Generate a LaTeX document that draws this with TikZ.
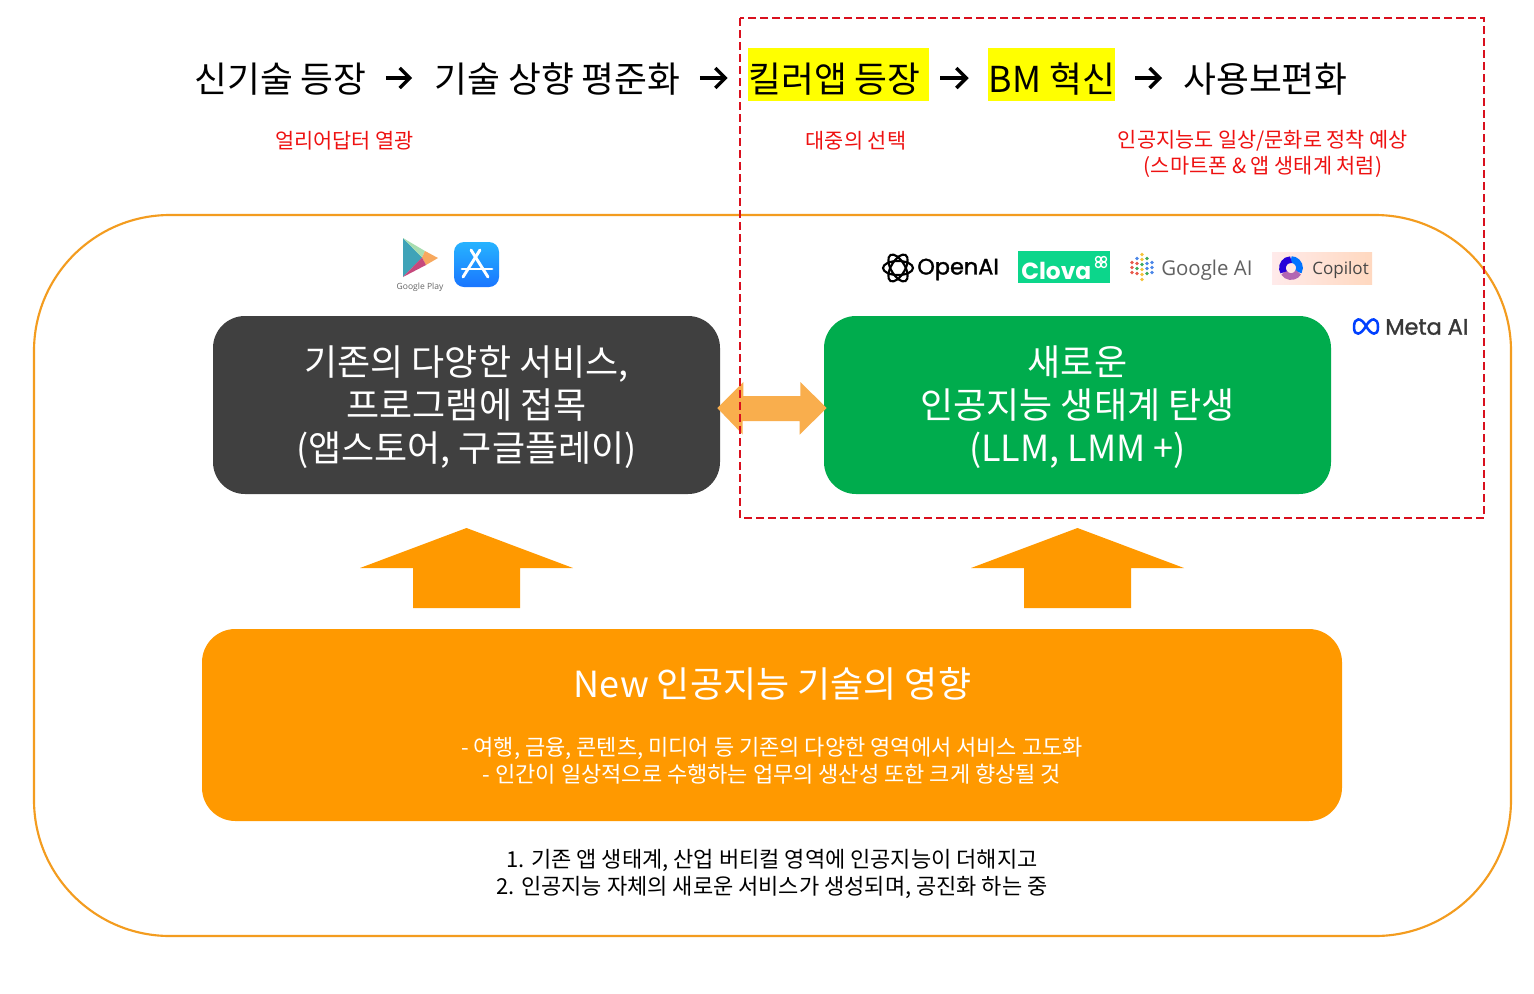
\documentclass[tikz,border=0pt]{standalone}
\usepackage{fontspec}
\setmainfont{Noto Sans CJK KR}
\newfontfamily\logofont{Poppins}
\newfontfamily\logobold[FakeBold=1.4]{Poppins}
\newfontfamily\gfont{Open Sans}
\usetikzlibrary{arrows.meta,calc}
\definecolor{ringorange}{HTML}{F39C1F}
\definecolor{boxorange}{HTML}{FF9900}
\definecolor{softorange}{HTML}{F9AE4D}
\definecolor{darkbox}{HTML}{404040}
\definecolor{greenbox}{HTML}{00AC4D}
\definecolor{dashred}{HTML}{D9101E}
\definecolor{textred}{HTML}{EE1111}
\definecolor{hiyellow}{HTML}{FFFF00}
\definecolor{clovagreen}{HTML}{0CD68B}
\definecolor{gpteal}{HTML}{3FA3B8}
\definecolor{gpgreen}{HTML}{A8DDB0}
\definecolor{gporange}{HTML}{F7A85E}
\definecolor{gppink}{HTML}{C6487C}
\definecolor{gred}{HTML}{E8594B}
\definecolor{gblue}{HTML}{4A86E8}
\definecolor{ggreen}{HTML}{3DAA5C}
\definecolor{gyellow}{HTML}{F5C33B}
\tikzset{
  x=0.75pt,y=-0.75pt,
  titletext/.style={font=\fontsize{26.8}{32}\selectfont,inner sep=0pt,text=black,anchor=center},
  hilite/.style={fill=hiyellow,minimum height=39.75pt,inner sep=0pt},
  redtext/.style={font=\fontsize{15.6}{19.5}\selectfont,text=textred,align=center,inner sep=0pt},
  flowarrow/.style={draw=black,line width=2.6pt,-{Straight Barb[length=7.5pt,width=15pt,line width=2.6pt]}},
  mainbox/.style={rounded corners=24pt,inner sep=0pt,minimum width=380.25pt,minimum height=133.5pt},
  maintext/.style={text=white,align=center,inner sep=0pt,font=\fontsize{27}{32.4}\selectfont},
  bigarrow/.style={fill=boxorange,draw=none},
  bottomtext/.style={font=\fontsize{16.5}{19.8}\selectfont,align=center,inner sep=0pt,text=black},
}
\begin{document}
\begin{tikzpicture}
\useasboundingbox (0,0) rectangle (1534,993);
\fill[white] (0,0) rectangle (1534,993);

% outer ring
\draw[ringorange,line width=1.6pt,rounded corners=102pt] (34,215) rectangle (1511,936);

% title row
\node[hilite,minimum width=135.75pt] (h3) at (838.5,74.5) {};
\node[hilite,minimum width=95.25pt] (h4) at (1051.5,74.5) {};
\node[titletext] (t1) at (280.5,79) {신기술 등장};
\node[titletext] (t2) at (557.5,79) {기술 상향 평준화};
\node[titletext] (t3) at (834.5,79) {킬러앱 등장};
\node[titletext] (t4) at (1052,79) {BM 혁신};
\node[titletext] (t5) at (1265.5,79) {사용보편화};
\draw[flowarrow,shorten <=14.25pt,shorten >=16.5pt] (t1.east |- 0,78) -- (t2.west |- 0,78);
\draw[flowarrow,shorten <=14.25pt,shorten >=15pt] (t2.east |- 0,78) -- (h3.west |- 0,78);
\draw[flowarrow,shorten <=8.25pt,shorten >=14.25pt] (h3.east |- 0,78) -- (h4.west |- 0,78);
\draw[flowarrow,shorten <=15pt,shorten >=15.75pt] (h4.east |- 0,78) -- (t5.west |- 0,78);

% red notes
\node[redtext] (n1) at (344.5,141) {얼리어답터 열광};
\node[redtext] (n2) at (856,141) {대중의 선택};
\node[redtext] (n3) at (1263,153.5) {인공지능도 일상/문화로 정착 예상\\(스마트폰 \& 앱 생태계 처럼)};

% main boxes
\node[mainbox,fill=darkbox] (old) at (466.5,405) {};
\node[maintext] (oldtext) at (466.5,407) {기존의 다양한 서비스,\\프로그램에 접목\\(앱스토어, 구글플레이)};
\node[mainbox,fill=greenbox] (new) at (1077.5,405) {};
\node[maintext] (newtext) at (1077.5,407) {새로운\\인공지능 생태계 탄생\\(LLM, LMM +)};

% double arrow
\path (old.east) ++(-3,3) coordinate (dl);
\path (new.west) ++(3,3) coordinate (dr);
\fill[softorange] (dl) -- ++(26,-26) -- ++(0,14) -- ++(57,0) -- ++(0,-14) -- (dr) -- ++(-27,26.5) -- ++(0,-13.5) -- ++(-57,0) -- ++(0,13.5) -- cycle;

% impact box
\node[rounded corners=25pt,fill=boxorange,minimum width=855pt,minimum height=144pt,inner sep=0pt] (impact) at (772,725) {};
\node[text=white,font=\fontsize{27}{32}\selectfont,inner sep=0pt] (impacttitle) at (772.5,684) {New 인공지능 기술의 영향};
\node[text=white,font=\fontsize{16.5}{20.25}\selectfont,align=center,inner sep=0pt] (impactbody) at (772,760.5) {- 여행, 금융, 콘텐츠, 미디어 등 기존의 다양한 영역에서 서비스 고도화\\- 인간이 일상적으로 수행하는 업무의 생산성 또한 크게 향상될 것};

% up arrows
\foreach \nm/\cx in {oldup/466.5,newup/1077.5}{
  \coordinate (\nm) at (\cx,528);
  \fill[bigarrow] (\nm) -- ++(106.5,40) -- ++(-53,0) -- ++(0,40) -- ++(-107,0) -- ++(0,-40) -- ++(-53,0) -- cycle;
}

% bottom text
\node[bottomtext] (bt) at (772,874) {1. 기존 앱 생태계, 산업 버티컬 영역에 인공지능이 더해지고\\2. 인공지능 자체의 새로운 서비스가 생성되며, 공진화 하는 중};

% dashed frame
\draw[dashred,line width=1.5pt,dash pattern=on 6pt off 3pt] (740,18) rectangle (1484,518);

% Google Play logo
\fill[gpteal] (403,238) -- (422,257.5) -- (403,277) -- cycle;
\fill[gpgreen] (403,238) -- (425,251) -- (422,257.5) -- cycle;
\fill[gporange] (425,251) -- (438,258) -- (426,265) -- (422,257.5) -- cycle;
\fill[gppink] (403,277) -- (422,257.5) -- (426,265) -- cycle;
\node[font=\fontsize{6.4}{8}\selectfont,text=black!60,inner sep=0pt] (gplay) at (420,287.5) {\gfont Google Play};

% App Store logo
\shade[rounded corners=7.5pt,top color=cyan!65!blue!85!white,bottom color=blue!60!cyan!90!white] (454,242) rectangle (499,287);
\draw[white,line width=2.2pt,line cap=round] (471,250) -- (488,277);
\draw[white,line width=2.2pt,line cap=round] (480,250) -- (463,277);
\draw[white,line width=2.2pt,line cap=round] (462,269) -- (492,269);

% OpenAI logo
\foreach \a in {0,60,120}{
  \draw[black,line width=1.6pt,rotate around={\a:(898,268)}] (898,268) ellipse [x radius=15,y radius=7];
}
\node[font=\fontsize{16.8}{20}\selectfont,text=black,inner sep=0pt,anchor=west] (openai) at (917,269.5) {\logobold OpenAI};

% Clova logo
\fill[clovagreen] (1018,251) rectangle (1110,283);
\node[font=\fontsize{17.5}{20}\selectfont,text=white,inner sep=0pt,anchor=west] (clova) at (1021,271) {\logofont\textbf{Clova}};
\foreach \dx/\dy in {-2.8/-2.8,2.8/-2.8,-2.8/2.8,2.8/2.8}{
  \draw[white,line width=1pt] (1101+\dx,262+\dy) circle [radius=2.7];
}

% Google AI logo
\foreach \dx/\dy/\c in {
  -10/-4/gred,-10/1/gred,-10/6/gred,
  -5/-8/gblue,-5/-3/gred,-5/2/ggreen,-5/7/gred,
  0/-12/gyellow,0/-7/gyellow,0/-2/ggreen,0/3/gyellow,0/8/gyellow,0/13/gyellow,
  5/-8/ggreen,5/-3/gblue,5/2/gblue,5/7/ggreen,
  10/-4/gblue,10/1/gblue,10/6/gblue}{
  \fill[\c] (1142+\dx,266.5+\dy) circle [radius=1.8];
}
\node[font=\fontsize{15.3}{20}\selectfont,text=black!62,inner sep=0pt,anchor=west] (gai) at (1161,270.5) {\gfont Google AI};

% Copilot logo
\shade[left color=red!8!white,right color=red!22!orange!25!white] (1272,252) rectangle (1372,284);
\draw[blue!55!cyan,line width=5pt] (1291,259.5) arc [start angle=-90,end angle=30,radius=8.5];
\draw[violet!60!white,line width=5pt] (1298.4,272.3) arc [start angle=30,end angle=150,radius=8.5];
\draw[blue!70!violet,line width=5pt] (1283.6,272.3) arc [start angle=150,end angle=270,radius=8.5];
\node[font=\fontsize{12.8}{16}\selectfont,text=black!72,inner sep=0pt,anchor=west] (copilot) at (1312,270.5) {\gfont Copilot};

% Meta AI logo
\draw[blue!75!cyan,line width=1.9pt,line join=round] (1366,326) .. controls (1361,317) and (1354,317) .. (1354,327) .. controls (1354,337) and (1361,335) .. (1366,326) .. controls (1371,317) and (1378,317) .. (1378,327) .. controls (1378,337) and (1371,335) .. (1366,326) -- cycle;
\node[font=\fontsize{16.8}{20}\selectfont,text=black!78,inner sep=0pt,anchor=west] (meta) at (1385,327) {\logobold Meta AI};
\end{tikzpicture}
\end{document}
